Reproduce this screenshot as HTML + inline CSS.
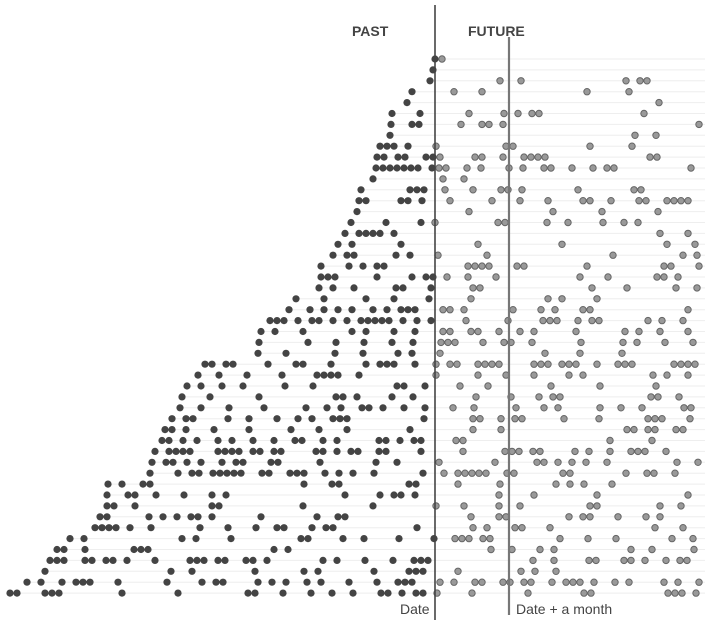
<!DOCTYPE html>
<html><head><meta charset="utf-8"><style>
html,body{margin:0;padding:0;background:#fff;width:728px;height:625px;overflow:hidden}
svg{display:block}
</style></head><body>
<svg id="s" width="728" height="625" xmlns="http://www.w3.org/2000/svg">
<g id="rows"></g>
<line x1="435" y1="5" x2="435" y2="620" stroke="#444" stroke-width="1.6"/>
<line x1="509" y1="37" x2="509" y2="615" stroke="#777" stroke-width="2.2"/>
<text x="352" y="36" font-family="Liberation Sans, sans-serif" font-weight="bold" font-size="14" fill="#444">PAST</text>
<text x="468" y="36" font-family="Liberation Sans, sans-serif" font-weight="bold" font-size="14" fill="#444">FUTURE</text>
<text x="400" y="614" font-family="Liberation Sans, sans-serif" font-size="14" fill="#444">Date</text>
<text x="516" y="614" font-family="Liberation Sans, sans-serif" font-size="14" fill="#444">Date + a month</text>
</svg>
<script>
var starts=[435,433,430,412,407,392,391,390,380,377,376,373,361,359,357,351,345,338,333,321,321,319,296,289,270,261,259,258,205,198,187,182,180,172,165,162,155,152,150,108,107,107,100,95,70,57,50,45,27,10];
var dens=[.05,.1,.2,.1,.1,.2,.3,.1,.3,.6,.8,.1,.5,.9,.1,.4,.3,.1,.3,.4,.5,.4,.3,.7,.9,.7,.5,.3,.6,.4,.5,.5,.7,.6,.5,.6,.5,.6,.7,.3,.4,.4,.5,.5,.3,.3,.5,.3,.6,.5];
var seed=7;function r(){seed=(seed*16807)%2147483647;return seed/2147483647;}
var g=document.getElementById('rows'),h='';
for(var i=0;i<50;i++){var y=59+i*10.9;var x0=starts[i];
h+='<line x1="'+x0+'" y1="'+y+'" x2="705" y2="'+y+'" stroke="#eee" stroke-width="1"/>';
var d=dens[i];
h+='<circle cx="'+x0+'" cy="'+y+'" r="3.6" fill="#444"/>';
for(var x=x0+7;x<700;x+=7){var dd=x<435?d*0.6:d*0.45;if(r()<dd){
if(x<435)h+='<circle cx="'+x+'" cy="'+y+'" r="3.6" fill="#444"/>';
else h+='<circle cx="'+x+'" cy="'+y+'" r="3.2" fill="#999" stroke="#666" stroke-width="1"/>';}}}
g.innerHTML=h;
</script>
</body></html>
